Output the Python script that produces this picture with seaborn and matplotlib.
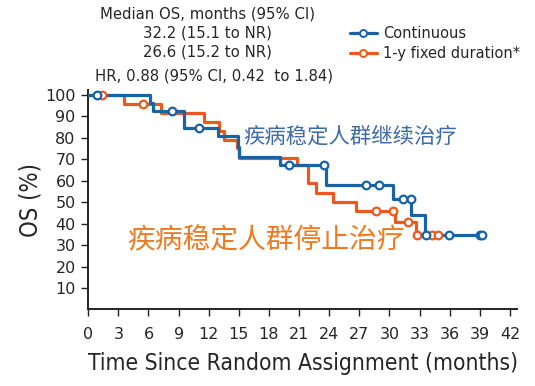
import numpy as np
import pandas as pd
import matplotlib
matplotlib.use("Agg")
import matplotlib.pyplot as plt
from matplotlib.lines import Line2D
import seaborn as sns

# ---- data ----
cont_times = [0, 6.15, 6.5, 9.5, 12.9, 14.9, 15.05, 19.1, 23.65, 30.3, 32.15, 33.5, 39.2]
cont_surv = [100, 96.1, 92.5, 84.5, 80.8, 75.9, 71.2, 67.5, 58.0, 51.7, 44.2, 34.8, 34.8]
cont_cens = [0.9, 8.35, 11.0, 20.0, 23.5, 27.7, 29.0, 31.3, 32.1, 33.6, 35.9, 39.0, 39.2]

fix_times = [0, 3.6, 7.2, 11.5, 13.0, 13.5, 14.8, 15.0, 20.8, 21.9, 22.7, 24.4, 26.7, 30.5, 32.65, 35.0]
fix_surv = [100, 96.0, 91.5, 87.5, 83.0, 79.0, 75.3, 70.8, 67.3, 58.8, 54.2, 50.1, 45.7, 40.8, 34.7, 34.7]
fix_cens = [1.4, 5.5, 28.7, 30.3, 31.8, 32.7, 34.2, 34.8]

series_names = ["Continuous", "1-y fixed duration*"]
x_ticks = list(range(0, 43, 3))
y_ticks = list(range(10, 101, 10))

header_lines = ["Median OS, months (95% CI)", "32.2 (15.1 to NR)", "26.6 (15.2 to NR)"]
hr_text = "HR, 0.88 (95% CI, 0.42  to 1.84)"
label_cont_cn = "疾病稳定人群继续治疗"
label_fix_cn = "疾病稳定人群停止治疗"

BLUE = "#1763a6"
ORANGE = "#ea5a1e"
BLUE_TXT = "#3e6aa8"
ORANGE_TXT = "#ee7b22"

sns.set_style("white")
plt.rcParams['font.family'] = ['DejaVu Sans', 'Noto Sans CJK SC']

fig = plt.figure(figsize=(5.35, 3.86), dpi=100)
ax = fig.add_axes([0.1649, 0.1984, 0.8015, 0.5684])


def step_value(times, surv, t):
    idx = np.searchsorted(times, t, side="right") - 1
    return surv[max(idx, 0)]


arms = [
    (series_names[0], cont_times, cont_surv, cont_cens, BLUE),
    (series_names[1], fix_times, fix_surv, fix_cens, ORANGE),
]

# draw orange first so blue overlays
for name, times, surv, cens, col in arms[::-1]:
    df = pd.DataFrame({"t": times, "s": surv})
    sns.lineplot(data=df, x="t", y="s", ax=ax, color=col, lw=2.3,
                 drawstyle="steps-post", sort=False, estimator=None, zorder=3)
    cdf = pd.DataFrame({"t": cens, "s": [step_value(times, surv, c) for c in cens]})
    ax.plot(cdf["t"], cdf["s"], ls="none", marker="o", ms=5.5,
            mfc="white", mec=col, mew=1.6, zorder=4)

ax.set_xlim(0, 42.7)
ax.set_ylim(0, 102.3)
ax.set_xticks(x_ticks)
ax.set_yticks(y_ticks)
ax.tick_params(axis="both", direction="out", length=5, width=1, color="#222222",
               labelsize=11.5, bottom=True, left=True)
ax.tick_params(axis="x", pad=8)
ax.tick_params(axis="y", pad=4)
for sp in ["top", "right"]:
    ax.spines[sp].set_visible(False)
for sp in ["left", "bottom"]:
    ax.spines[sp].set_color("#222222")
    ax.spines[sp].set_linewidth(1.4)
ax.set_xlabel("Time Since Random Assignment (months)", fontsize=16.4, labelpad=7,
              fontstretch="condensed")
ax.set_ylabel("OS (%)", fontsize=17, labelpad=2, fontstretch="condensed")
ax.grid(False)

# header text
fs = 10.7
fig.text(207 / 535, 1 - 14 / 386, header_lines[0], ha="center", va="center", fontsize=fs)
fig.text(207 / 535, 1 - 33 / 386, header_lines[1], ha="center", va="center", fontsize=fs)
fig.text(207 / 535, 1 - 52 / 386, header_lines[2], ha="center", va="center", fontsize=fs)
fig.text(95 / 535, 1 - 76 / 386, hr_text, ha="left", va="center", fontsize=fs)

handles = [
    Line2D([0], [0], color=BLUE, lw=2.3, marker="o", ms=5, mfc="white", mec=BLUE, mew=1.4),
    Line2D([0], [0], color=ORANGE, lw=2.3, marker="o", ms=5, mfc="white", mec=ORANGE, mew=1.4),
]
fig.legend(handles, series_names, loc="upper left", bbox_to_anchor=(343 / 535, 1 - 19 / 386),
           frameon=False, fontsize=10.5, handlelength=1.8, handletextpad=0.45,
           labelspacing=0.3, borderpad=0)

cjk = ['Noto Sans CJK SC', 'DejaVu Sans']
ax.text(15.4, 80.5, label_cont_cn, color=BLUE_TXT, fontsize=15.4, family=cjk,
        ha="left", va="center", zorder=5)
ax.text(3.9, 32.0, label_fix_cn, color=ORANGE_TXT, fontsize=20, family=cjk,
        ha="left", va="center", zorder=5)

fig.savefig("out.png", dpi=100)
